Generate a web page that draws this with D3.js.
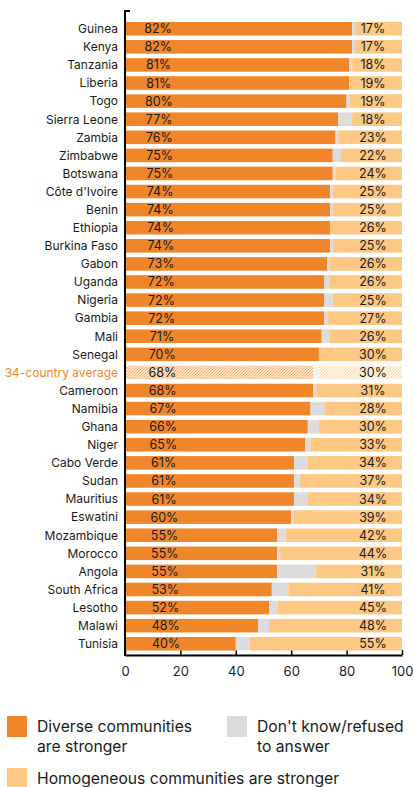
<!DOCTYPE html>
<html>
<head>
<meta charset="utf-8">
<script src="https://cdn.jsdelivr.net/npm/d3@7"></script>
<style>
  body { margin: 0; background: #fff; }
  svg { display: block; font-family: Inter, Roboto, sans-serif; }
</style>
</head>
<body>
<svg id="svg" width="414" height="787"></svg>
<script>
let countries = ["Guinea", "Kenya", "Tanzania", "Liberia", "Togo", "Sierra Leone", "Zambia", "Zimbabwe",
    "Botswana", "Côte d'Ivoire", "Benin", "Ethiopia", "Burkina Faso", "Gabon", "Uganda", "Nigeria",
    "Gambia", "Mali", "Senegal", "34-country average", "Cameroon", "Namibia", "Ghana", "Niger",
    "Cabo Verde", "Sudan", "Mauritius", "Eswatini", "Mozambique", "Morocco", "Angola", "South Africa",
    "Lesotho", "Malawi", "Tunisia"];
let diverse = [82, 82, 81, 81, 80, 77, 76, 75, 75, 74, 74, 74, 74, 73, 72, 72, 72, 71, 70, 68,
    68, 67, 66, 65, 61, 61, 61, 60, 55, 55, 55, 53, 52, 48, 40];
let dontKnow = [1, 1, 1, 0, 1, 5, 1, 3, 1, 1, 1, 0, 1, 1, 2, 3, 1, 3, 0, 2,
    1, 5, 4, 2, 5, 2, 5, 1, 3, 1, 14, 6, 3, 4, 5];
let homog = [17, 17, 18, 19, 19, 18, 23, 22, 24, 25, 25, 26, 25, 26, 26, 25, 27, 26, 30, 30,
    31, 28, 30, 33, 34, 37, 34, 39, 42, 44, 31, 41, 45, 48, 55];
let xTicks = [0, 20, 40, 60, 80, 100];
let averageName = "34-country average";

let colDiverse = "#f0862a";
let colDk = "#dcdcdc";
let colHomog = "#fcc883";

let svg = d3.select("#svg");
let x = d3.scaleLinear().domain([0, 100]).range([125, 402]);
let y = d3.scaleBand().domain(countries).range([19.7, 652.8]).paddingInner(0.25).paddingOuter(0.125);
// label drift for the diverse percentages, as in the original
let labelX = d3.scaleLinear().domain([0, countries.length - 1]).range([158, 166]);

let defs = svg.append("defs");
let pat = defs.append("pattern").attr("id", "hatch").attr("patternUnits", "userSpaceOnUse")
    .attr("width", 3).attr("height", 3);
pat.append("rect").attr("width", 3).attr("height", 3).attr("fill", "#fde7cc");
pat.append("path").attr("d", "M0,3 L3,0 M-1,1 L1,-1 M2,4 L4,2").attr("stroke", colDiverse).attr("stroke-width", 0.6);
let patL = defs.append("pattern").attr("id", "hatchLight").attr("patternUnits", "userSpaceOnUse")
    .attr("width", 3).attr("height", 3);
patL.append("rect").attr("width", 3).attr("height", 3).attr("fill", "#fff6ea");
patL.append("path").attr("d", "M0,3 L3,0 M-1,1 L1,-1 M2,4 L4,2").attr("stroke", colHomog).attr("stroke-width", 0.6);

let rows = countries.map((c, i) => ({
    name: c, i: i, d: diverse[i], k: dontKnow[i], h: homog[i], avg: c === averageName
}));

// axes (drawn under the bars)
svg.append("g")
    .attr("transform", "translate(0,655)")
    .call(d3.axisBottom(x).tickValues(xTicks).tickSizeInner(-5).tickSizeOuter(0).tickPadding(12))
    .call(g => g.select(".domain").attr("stroke", "#000").attr("stroke-width", 2))
    .call(g => g.selectAll(".tick line").attr("stroke", "#000").attr("stroke-width", 1.5))
    .call(g => g.selectAll("text").attr("font-size", 13).attr("fill", "#222")
        .attr("font-family", "Inter, sans-serif"));

svg.append("line").attr("x1", 125).attr("x2", 125).attr("y1", 10).attr("y2", 656)
    .attr("stroke", "#000").attr("stroke-width", 2);
svg.append("line").attr("x1", 125).attr("x2", 130).attr("y1", 11).attr("y2", 11)
    .attr("stroke", "#000").attr("stroke-width", 2);

let row = svg.selectAll(".row").data(rows).enter().append("g").attr("class", "row");

row.append("rect")
    .attr("x", d => x(0) + 1)
    .attr("y", d => y(d.name))
    .attr("width", d => x(d.d) - x(0) - 1)
    .attr("height", y.bandwidth())
    .attr("fill", d => d.avg ? "url(#hatch)" : colDiverse);

row.append("rect")
    .attr("x", d => x(d.d))
    .attr("y", d => y(d.name))
    .attr("width", d => x(d.d + d.k) - x(d.d))
    .attr("height", y.bandwidth())
    .attr("fill", d => d.avg ? "#f4f4f4" : colDk);

row.append("rect")
    .attr("x", d => x(d.d + d.k))
    .attr("y", d => y(d.name))
    .attr("width", d => x(100) - x(d.d + d.k))
    .attr("height", y.bandwidth())
    .attr("fill", d => d.avg ? "url(#hatchLight)" : colHomog);

row.append("text")
    .attr("x", d => labelX(d.i))
    .attr("y", d => y(d.name) + y.bandwidth() / 2)
    .attr("dy", "0.36em")
    .attr("text-anchor", "middle")
    .attr("font-size", 12.5)
    .attr("fill", "#1a1a1a")
    .text(d => d.d + "%");

row.append("text")
    .attr("x", 373)
    .attr("y", d => y(d.name) + y.bandwidth() / 2)
    .attr("dy", "0.36em")
    .attr("text-anchor", "middle")
    .attr("font-size", 12.5)
    .attr("fill", "#1a1a1a")
    .text(d => d.h + "%");

row.append("text")
    .attr("x", 118)
    .attr("y", d => y(d.name) + y.bandwidth() / 2)
    .attr("dy", "0.36em")
    .attr("text-anchor", "end")
    .attr("font-size", 12)
    .attr("fill", d => d.avg ? colDiverse : "#1a1a1a")
    .text(d => d.name);

// legend
let legend = [
    { color: colDiverse, lines: ["Diverse communities", "are stronger"], x: 7, y: 716 },
    { color: colDk, lines: ["Don't know/refused", "to answer"], x: 227, y: 716 },
    { color: colHomog, lines: ["Homogeneous communities are stronger"], x: 7, y: 768 }
];
let lg = svg.selectAll(".legend").data(legend).enter().append("g").attr("class", "legend");
lg.append("rect").attr("x", d => d.x).attr("y", d => d.y).attr("width", 20).attr("height", 21)
    .attr("fill", d => d.color);
lg.each(function (d) {
    let t = d3.select(this).append("text")
        .attr("x", d.x + 30).attr("y", d.y + 16)
        .attr("font-size", 15.7).attr("fill", "#1a1a1a");
    d.lines.forEach((l, j) => t.append("tspan").attr("x", d.x + 30).attr("dy", j === 0 ? 0 : 20).text(l));
});
</script>
</body>
</html>
